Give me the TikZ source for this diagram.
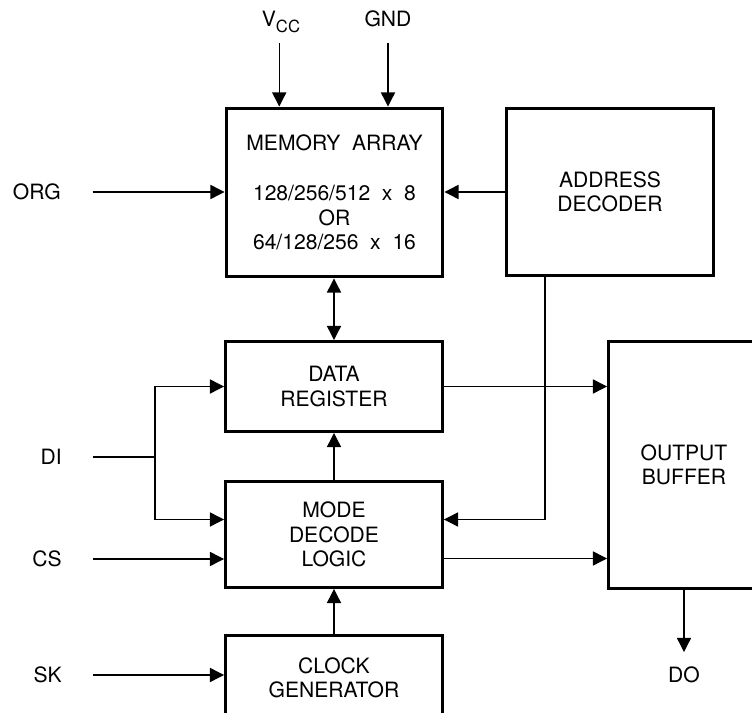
\documentclass[tikz,border=0pt]{standalone}
\usepackage{fontspec}
\setmainfont{TeX Gyre Heros}
\usetikzlibrary{positioning, arrows.meta}
\tikzset{blk/.style={draw, line width=1.7pt, align=center, inner sep=0pt, font=\fontsize{12}{14}\selectfont}}
\tikzset{arr/.style={draw, line width=0.75pt, -{Triangle[length=8pt,width=8pt]}}}
\tikzset{arr2/.style={arr, {Triangle[length=8pt,width=8pt]}-{Triangle[length=8pt,width=8pt]}}}
\tikzset{wire/.style={draw, line width=0.75pt}}
\tikzset{lbl/.style={inner sep=0pt, text height=8.6pt, text depth=0pt, font=\fontsize{12}{14}\selectfont}}

\begin{document}
\begin{tikzpicture}[x=0.02cm, y=-0.02cm]
			\clip (0,0) rectangle (752,713);

			\node[blk, minimum width=4.34cm, minimum height=3.38cm] (mem) at (334.5,192.5)
				{MEMORY\ \ ARRAY\\[14.5pt] 128/256/512\ \ x\ \ 8\\ OR\\ 64/128/256\ \ x\ \ 16};
			\node[blk, minimum width=4.14cm, minimum height=3.34cm] (addr) at (610,192){ADDRESS\\ DECODER};
			\node[blk, minimum width=4.34cm, minimum height=1.8cm] (dreg) at (334,386.5){DATA\\ REGISTER};
			\node[blk, minimum width=4.34cm, minimum height=2.12cm] (mode) at (334,534.5){MODE\\ DECODE\\ LOGIC};
			\node[blk, minimum width=4.34cm, minimum height=1.7cm] (clk) at (334,678){CLOCK\\ GENERATOR};
			\node[blk, minimum width=3.02cm, minimum height=4.94cm] (obuf) at (684,465){OUTPUT\\ BUFFER};

			% pins
			\node[lbl, anchor=base] (vcc) at (281,27){V\raisebox{-3pt}{\fontsize{9.5}{10}\selectfont CC}};
			\node[lbl, anchor=base] (gnd) at (388,27){GND};
			\node[lbl, anchor=east] (org) at (61,192){ORG};
			\node[lbl, anchor=east] (di) at (62,457){DI};
			\node[lbl, anchor=east] (cs) at (62,559){CS};
			\node[lbl, anchor=east] (sk) at (62,675){SK};
			\node[lbl, below=1.54cm of obuf] (do){DO};

			\coordinate (split) at (155,457);
			\coordinate (mode-in) at ([yshift=0.3cm]mode.west);
			\coordinate (mode-ad) at ([yshift=0.3cm]mode.east);
			\coordinate (mode-out) at ([yshift=-0.48cm]mode.east);
			\coordinate (ad-tap) at ([xshift=-1.3cm]addr.south);

			\draw[arr, shorten <=9pt] ([xshift=-1pt]vcc.base) -- ([xshift=-1pt]vcc.base |- mem.north);
			\draw[arr, shorten <=9pt] (gnd.base) -- (gnd.base |- mem.north);
			\draw[arr, shorten <=18pt] (org.east) -- (mem.west |- org.east);
			\draw[arr] (addr.west) -- (mem.east |- addr.west);
			\draw[arr2] (dreg.north) -- (dreg.north |- mem.south);

			\draw[wire, shorten <=17.5pt] (di.east) -- (split);
			\draw[arr] (split) |- (dreg.west);
			\draw[arr] (split) |- (mode-in);
			\draw[arr, shorten <=17.5pt] (cs.east) -- (mode.west |- cs.east);
			\draw[arr, shorten <=17.5pt] (sk.east) -- (clk.west |- sk.east);

			\draw[arr] (mode.north) -- (dreg.south);
			\draw[arr] (clk.north) -- (mode.south);
			\draw[arr] (ad-tap) |- (mode-ad);
			\draw[arr] (dreg.east) -- (obuf.west |- dreg.east);
			\draw[arr] (mode-out) -- (obuf.west |- mode-out);
			\draw[arr, shorten >=8.5pt] (obuf.south) -- (do.north);
		\end{tikzpicture}
\end{document}
